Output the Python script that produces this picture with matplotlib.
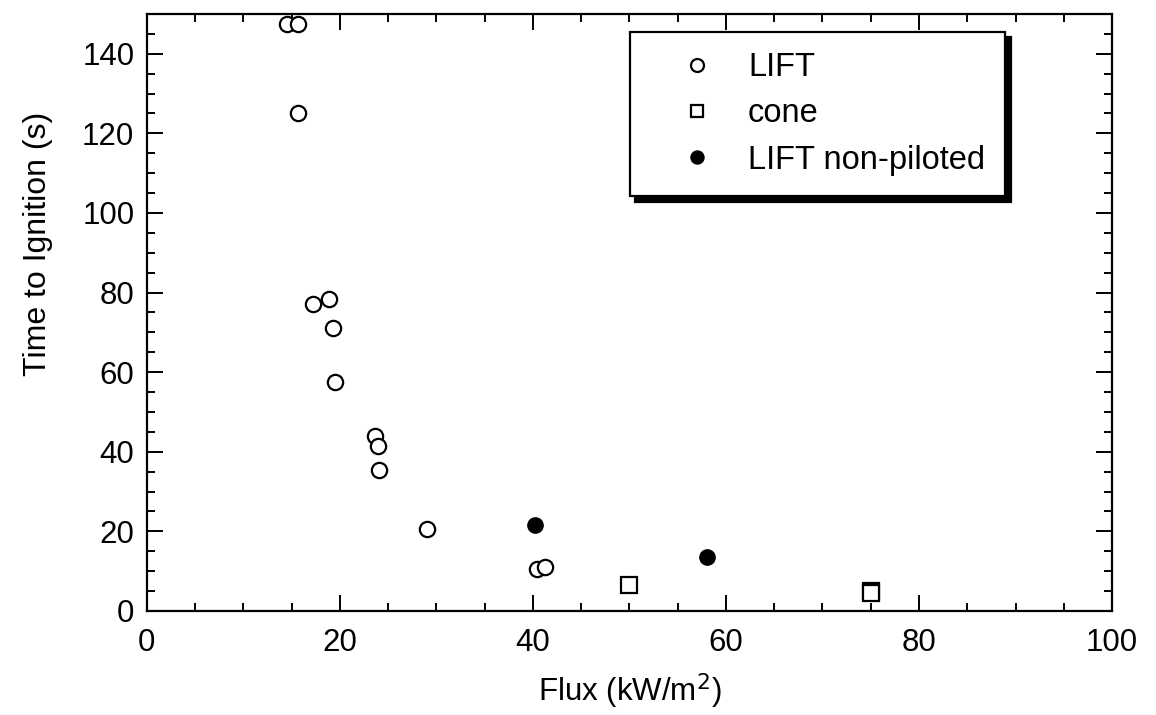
import numpy as np
import matplotlib
matplotlib.use('Agg')
import matplotlib.pyplot as plt
from matplotlib.ticker import MultipleLocator

plt.rcParams['font.family'] = ['Liberation Sans', 'DejaVu Sans']

# --- donnees ---
lift_flux = [14.5, 15.7, 15.7, 17.2, 18.9, 19.3, 19.5, 23.6, 24.0, 24.1, 29.0, 40.4, 41.3]
lift_time = [147.5, 147.5, 125.0, 77.0, 78.5, 71.0, 57.5, 44.0, 41.5, 35.5, 20.5, 10.6, 11.1]

cone_flux = [50.0, 75.0, 75.0]
cone_time = [6.5, 5.0, 4.4]

nonpilot_flux = [40.2, 58.0]
nonpilot_time = [21.7, 13.5]

fig = plt.figure(figsize=(11.56, 7.15), dpi=100)
ax = fig.add_axes([0.127, 0.1455, 0.835, 0.835])

ax.plot(lift_flux, lift_time, 'o', ms=11, mfc='white', mec='black', mew=1.6,
        label='LIFT', linestyle='none')
ax.plot(cone_flux, cone_time, 's', ms=11, mfc='white', mec='black', mew=1.6,
        label='cone', linestyle='none')
ax.plot(nonpilot_flux, nonpilot_time, 'o', ms=11, mfc='black', mec='black',
        label='LIFT non-piloted', linestyle='none')

ax.set_xlim(0, 100)
ax.set_ylim(0, 150)
ax.xaxis.set_major_locator(MultipleLocator(20))
ax.xaxis.set_minor_locator(MultipleLocator(5))
ax.yaxis.set_minor_locator(MultipleLocator(5))
ax.set_yticks(np.arange(0, 141, 20))

ax.tick_params(which='both', direction='in', top=True, right=True, width=1.4,
               labelsize=22.5)
ax.tick_params(which='major', length=11.5)
ax.tick_params(which='minor', length=6)
ax.tick_params(axis='x', pad=12)
ax.tick_params(axis='y', pad=9)
for s in ax.spines.values():
    s.set_linewidth(1.6)

ax.set_xlabel('Flux (kW/m$^2$)', fontsize=22.5, labelpad=10)
ax.set_ylabel('Time to Ignition (s)', fontsize=23)
ax.yaxis.set_label_coords(-0.097, 0.615)

leg = ax.legend(loc='upper left', bbox_to_anchor=(0.5005, 0.970), fontsize=23.5,
                frameon=True, fancybox=False, edgecolor='black', framealpha=1,
                markerscale=0.85, handlelength=2.85, handletextpad=0.15,
                borderpad=0.62, borderaxespad=0, labelspacing=0.47,
                shadow={'color': 'black', 'alpha': 1, 'ox': 4, 'oy': -4})
leg.get_frame().set_linewidth(1.6)

plt.savefig('out.png', dpi=100)
